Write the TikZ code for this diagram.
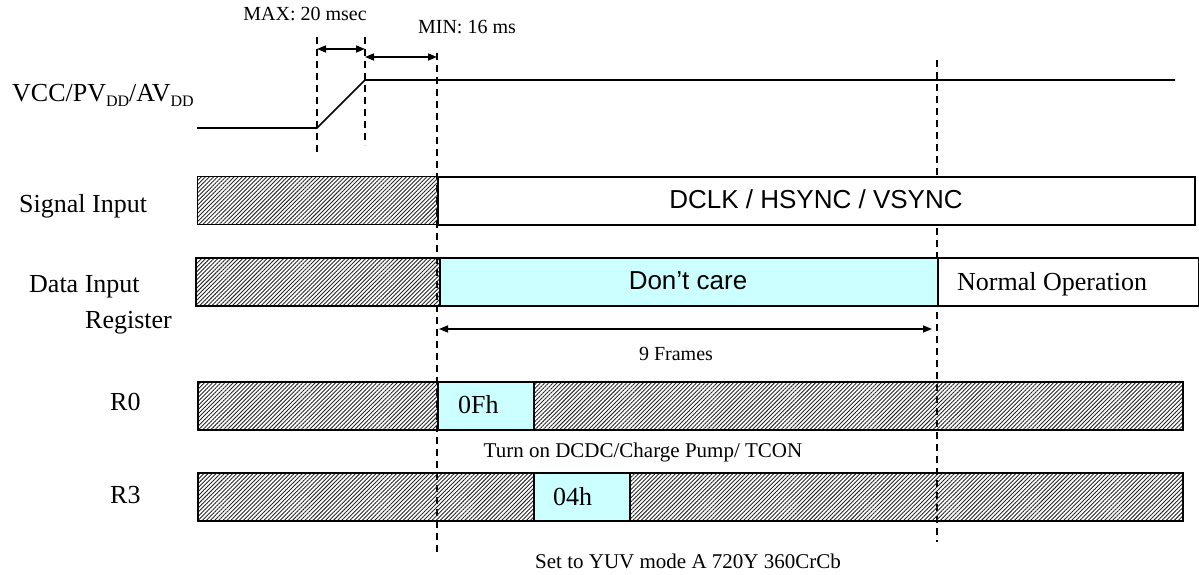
\documentclass[tikz,border=0pt]{standalone}
\usepackage{fontspec}
\setmainfont{Liberation Serif}
\newfontfamily\arialf{Liberation Sans}
\usetikzlibrary{patterns.meta,arrows.meta}
\definecolor{cyanbox}{RGB}{204,255,255}
\newcommand\dsub[1]{\raisebox{-5pt}{\fontsize{16}{16}\selectfont #1}}
\begin{document}
\begin{tikzpicture}[x=1pt,y=-1pt,
  lbl/.style={inner sep=0pt, font=\fontsize{26}{30}\selectfont},
  sanslbl/.style={inner sep=0pt, font=\arialf\fontsize{26}{30}\selectfont},
  smalllbl/.style={inner sep=0pt, font=\fontsize{21}{24}\selectfont},
  tinylbl/.style={inner sep=0pt, font=\fontsize{20}{24}\selectfont},
  bar/.style={draw=black, line width=1.5pt, rectangle, inner sep=0pt, minimum height=48pt, anchor=north west},
  hatchbar/.style={bar, pattern={Lines[angle=45,distance=2.9pt,line width=0.9pt]}, pattern color=black!85},
  cyanbar/.style={bar, fill=cyanbox},
  whitebar/.style={bar, fill=white},
  guide/.style={line width=1.5pt, dash pattern=on 7pt off 5pt},
  wave/.style={line width=1.6pt},
  dimarrow/.style={{Triangle[length=9pt,width=7pt]}-{Triangle[length=9pt,width=7pt]}, line width=1.5pt}
]
\useasboundingbox (0,0) rectangle (1199,575);

% guide coordinates
\coordinate (g1t) at (317,37);  \coordinate (g1b) at (317,152);
\coordinate (g2t) at (365,37);  \coordinate (g2b) at (365,145);
\coordinate (g3t) at (437,53);  \coordinate (g3b) at (437,552);
\coordinate (g4t) at (937,60);  \coordinate (g4b) at (937,542);
\draw[guide] (g1t) -- (g1b);
\draw[guide] (g2t) -- (g2b);
\draw[guide] (g3t) -- (g3b);
\draw[guide] (g4t) -- (g4b);

% VCC waveform
\coordinate (w0) at (197,128);
\coordinate (w1) at (317,128);
\coordinate (w2) at (365,80);
\coordinate (w3) at (1175,80);
\draw[wave] (w0) -- (w1) -- (w2) -- (w3);

% timing arrows
\coordinate (a1l) at (317,49); \coordinate (a1r) at (365,49);
\coordinate (a2l) at (365,57); \coordinate (a2r) at (437,57);
\coordinate (a3l) at (439,329); \coordinate (a3r) at (932,329);
\draw[dimarrow] (a1l) -- (a1r);
\draw[dimarrow] (a2l) -- (a2r);
\draw[dimarrow] (a3l) -- (a3r);

\node[tinylbl, anchor=base] (tmax) at (305,21) {MAX: 20 msec};
\node[tinylbl, anchor=base] (tmin) at (467,34) {MIN: 16 ms};

% Row labels
\node[lbl, anchor=base west] (lvcc) at (12,102) {VCC/PV\dsub{DD}/AV\dsub{DD}};
\node[lbl, anchor=base west] (lsig) at (19,212) {Signal Input};
\node[lbl, anchor=base west] (ldat) at (29,292) {Data Input};
\node[lbl, anchor=base west] (lreg) at (85,328) {Register};
\node[lbl, anchor=base west] (lr0) at (110,410) {R0};
\node[lbl, anchor=base west] (lr3) at (110,503) {R3};

% Signal input row
\node[hatchbar, minimum width=240pt] (sigH) at (197,176) {};
\node[whitebar, minimum width=757pt] (sigW) at (437,176) {};
\node[sanslbl, anchor=base] (tsig) at (816,208) {DCLK / HSYNC / VSYNC};

% Data input row
\node[hatchbar, minimum width=244pt] (datH) at (195,257) {};
\node[cyanbar, minimum width=498pt] (datC) at (439,257) {};
\node[whitebar, minimum width=261pt] (datW) at (937,257) {};
\node[sanslbl, anchor=base] (tdc) at (688,289) {Don’t care};
\node[lbl, anchor=base west] (tnorm) at (957,290) {Normal Operation};

\node[tinylbl, anchor=base] (t9f) at (676,360) {9 Frames};

% R0 row
\node[hatchbar, minimum width=985pt] (r0H) at (197,381) {};
\node[cyanbar, minimum width=96pt] (r0C) at (437,381) {};
\node[lbl, anchor=base west] (t0f) at (458,413) {0Fh};
\node[smalllbl, anchor=base] (tturn) at (643,457) {Turn on DCDC/Charge Pump/ TCON};

% R3 row
\node[hatchbar, minimum width=985pt] (r3H) at (197,472) {};
\node[cyanbar, minimum width=96pt] (r3C) at (533,472) {};
\node[lbl, anchor=base west] (t04) at (553,505) {04h};
\node[smalllbl, anchor=base] (tset) at (688,568) {Set to YUV mode A 720Y 360CrCb};
\end{tikzpicture}
\end{document}
